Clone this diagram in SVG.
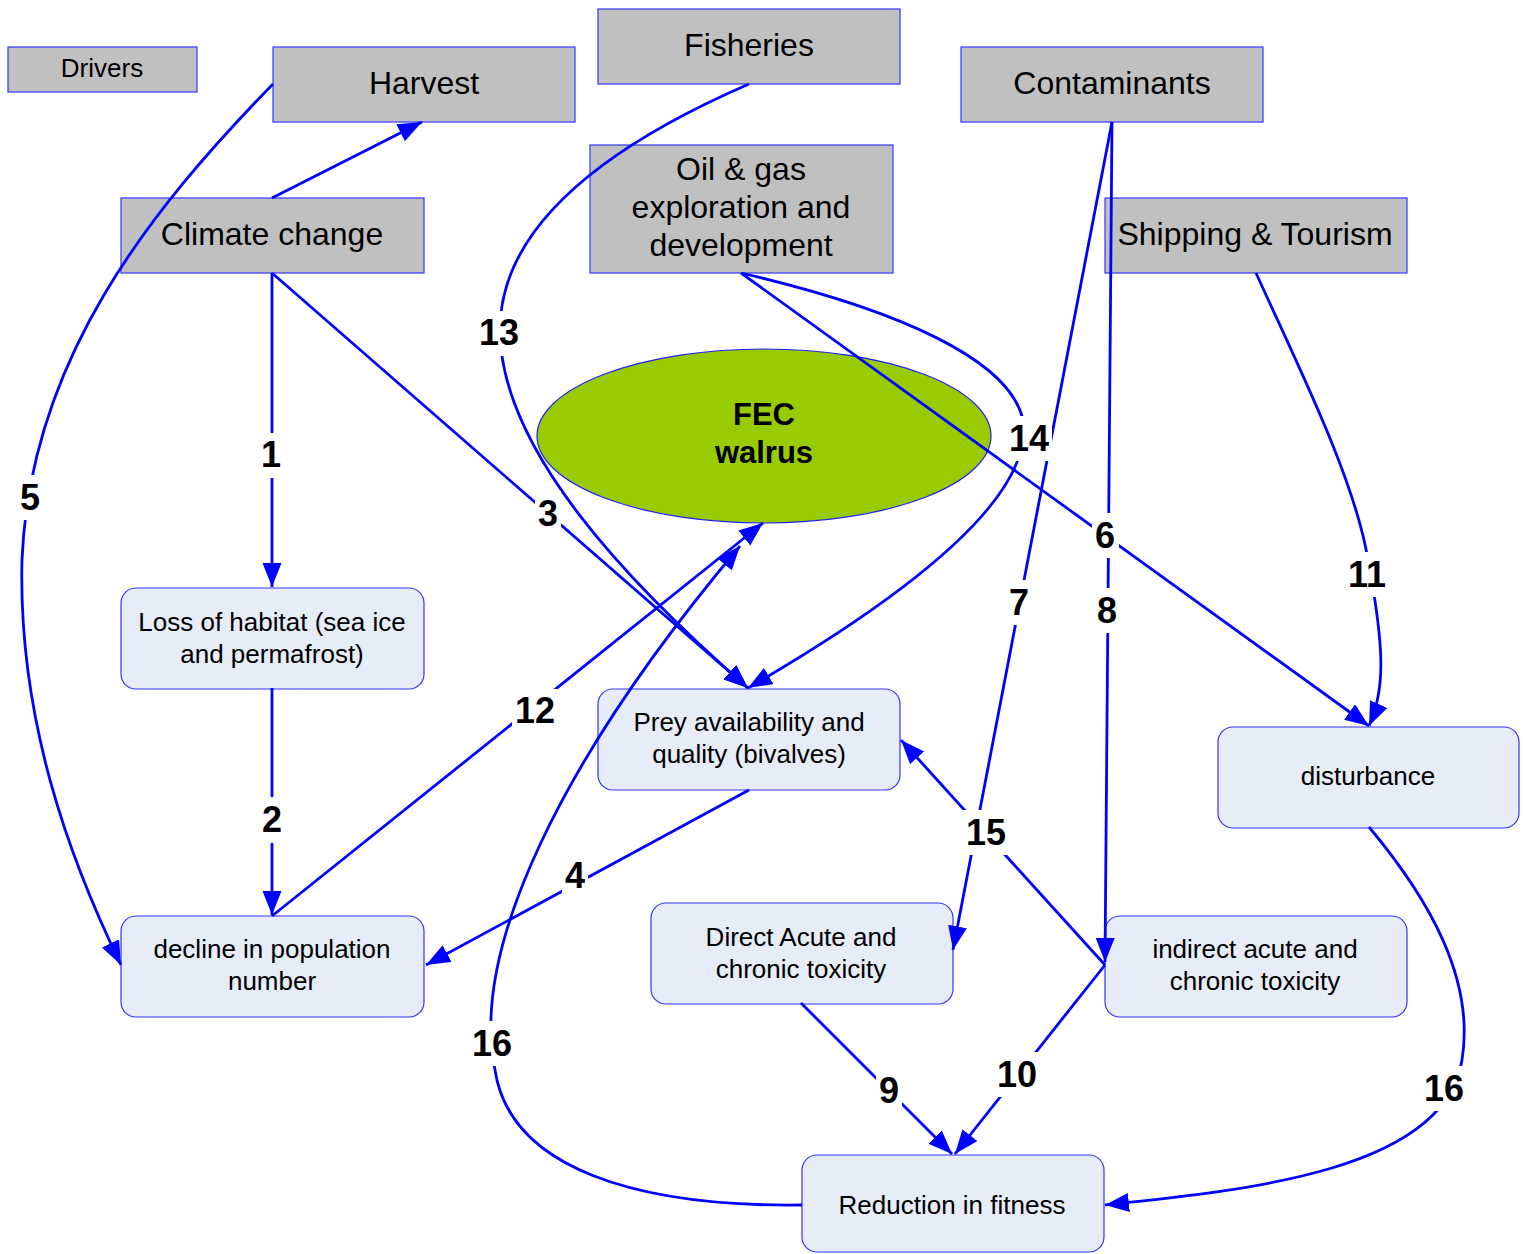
<svg xmlns="http://www.w3.org/2000/svg" width="1523" height="1254" viewBox="0 0 1523 1254">
  <style>
    .drv { fill: #C0C0C0; stroke: #3535FF; stroke-width: 1.2; }
    .eff { fill: #E6ECF8; stroke: #3535FF; stroke-width: 1.2; }
    .fec { fill: #99CC00; stroke: #2020FF; stroke-width: 1.2; }
    .txt { font-family: "Liberation Sans", Arial, sans-serif; fill: #000; text-anchor: middle; }
    .big { font-size: 32px; }
    .mid { font-size: 26px; }
    .bold { font-weight: bold; font-size: 31px; }
    .edge { fill: none; stroke: #0000FF; stroke-width: 2.8; }
    .arr { marker-end: url(#ah); }
    .lbg { fill: #FFFFFF; }
    .lbl { font-family: "Liberation Sans", Arial, sans-serif; font-weight: bold; font-size: 36px; fill: #000; text-anchor: middle; }
  </style>
  <defs>
    <marker id="ah" markerUnits="userSpaceOnUse" markerWidth="26" markerHeight="20" refX="24" refY="9.5" orient="auto">
      <path d="M0,0 L24,9.5 L0,19 z" fill="#0000FF"/>
    </marker>
  </defs>
  <rect width="1523" height="1254" fill="#FFFFFF"/>

  <!-- drivers -->
  <g id="drivers">
    <rect class="drv" x="8" y="47" width="189" height="45"/>
    <text class="txt" x="102" y="77" font-size="26">Drivers</text>
  </g>
  <g id="harvest">
    <rect class="drv" x="273" y="47" width="302" height="75"/>
    <text class="txt big" x="424" y="94">Harvest</text>
  </g>
  <g id="fisheries">
    <rect class="drv" x="598" y="9" width="302" height="75"/>
    <text class="txt big" x="749" y="56">Fisheries</text>
  </g>
  <g id="contaminants">
    <rect class="drv" x="961" y="47" width="302" height="75"/>
    <text class="txt big" x="1112" y="94">Contaminants</text>
  </g>
  <g id="climate">
    <rect class="drv" x="121" y="198" width="303" height="75"/>
    <text class="txt big" x="272" y="245">Climate change</text>
  </g>
  <g id="oilgas">
    <rect class="drv" x="590" y="145" width="303" height="128"/>
    <text class="txt big" x="741" y="180">Oil &amp; gas</text>
    <text class="txt big" x="741" y="218">exploration and</text>
    <text class="txt big" x="741" y="256">development</text>
  </g>
  <g id="shipping">
    <rect class="drv" x="1105" y="198" width="302" height="75"/>
    <text class="txt big" x="1255" y="245">Shipping &amp; Tourism</text>
  </g>

  <!-- ecosystem component -->
  <g id="fec-walrus">
    <ellipse class="fec" cx="764" cy="436" rx="227" ry="87"/>
    <text class="txt bold" x="764" y="425">FEC</text>
    <text class="txt bold" x="764" y="463">walrus</text>
  </g>

  <!-- pressures and effects -->
  <g id="loss-habitat">
    <rect class="eff" x="121" y="588" width="303" height="101" rx="15"/>
    <text class="txt mid" x="272" y="631">Loss of habitat (sea ice</text>
    <text class="txt mid" x="272" y="663">and permafrost)</text>
  </g>
  <g id="decline">
    <rect class="eff" x="121" y="916" width="303" height="101" rx="15"/>
    <text class="txt mid" x="272" y="958">decline in population</text>
    <text class="txt mid" x="272" y="990">number</text>
  </g>
  <g id="prey">
    <rect class="eff" x="598" y="689" width="302" height="101" rx="15"/>
    <text class="txt mid" x="749" y="731">Prey availability and</text>
    <text class="txt mid" x="749" y="763">quality (bivalves)</text>
  </g>
  <g id="disturbance">
    <rect class="eff" x="1218" y="727" width="301" height="101" rx="15"/>
    <text class="txt mid" x="1368" y="785">disturbance</text>
  </g>
  <g id="direct-toxicity">
    <rect class="eff" x="651" y="903" width="302" height="101" rx="15"/>
    <text class="txt mid" x="801" y="946">Direct Acute and</text>
    <text class="txt mid" x="801" y="978">chronic toxicity</text>
  </g>
  <g id="indirect-toxicity">
    <rect class="eff" x="1105" y="916" width="302" height="101" rx="15"/>
    <text class="txt mid" x="1255" y="958">indirect acute and</text>
    <text class="txt mid" x="1255" y="990">chronic toxicity</text>
  </g>
  <g id="reduction-fitness">
    <rect class="eff" x="802" y="1155" width="302" height="97" rx="15"/>
    <text class="txt mid" x="952" y="1214">Reduction in fitness</text>
  </g>

  <!-- connectors -->
  <g id="connectors">
    <path class="edge arr" d="M272,198 L422,122"/>
    <path class="edge arr" d="M272,273 L272,587"/>
    <path class="edge arr" d="M272,688 L272,915"/>
    <path class="edge arr" d="M272,273 L748,688"/>
    <path class="edge arr" d="M749,790 L426,965"/>
    <path class="edge arr" d="M273,84 C150,210 30,360 22,560 C18,720 70,860 121,965"/>
    <path class="edge arr" d="M741,273 L1369,726"/>
    <path class="edge arr" d="M1112,122 L953,950"/>
    <path class="edge arr" d="M1112,122 L1105,962"/>
    <path class="edge arr" d="M801,1003 L952,1154"/>
    <path class="edge arr" d="M1105,965 L955,1154"/>
    <path class="edge arr" d="M1256,273 C1300,370 1355,480 1368,560 C1385,650 1385,690 1369,726"/>
    <path class="edge arr" d="M272,916 L763,523"/>
    <path class="edge arr" d="M749,84 C620,140 500,220 500,330 C500,450 630,585 748,688"/>
    <path class="edge arr" d="M741,273 C900,310 1010,360 1023,420 C1035,500 900,600 748,688"/>
    <path class="edge arr" d="M1105,965 L901,740"/>
    <path class="edge arr" d="M1369,827 C1430,900 1475,980 1462,1060 C1445,1170 1250,1190 1105,1205"/>
    <path class="edge arr" d="M802,1205 C640,1207 510,1170 495,1070 C470,950 560,760 740,546"/>

    <!-- edge numbers -->
    <g id="edge-labels">
      <rect class="lbg" x="258" y="433" width="26" height="45"/>
      <text class="lbl" x="271" y="467">1</text>
      <rect class="lbg" x="259" y="797" width="26" height="46"/>
      <text class="lbl" x="272" y="832">2</text>
      <rect class="lbg" x="535" y="491" width="26" height="45"/>
      <text class="lbl" x="548" y="526">3</text>
      <rect class="lbg" x="562" y="853" width="26" height="45"/>
      <text class="lbl" x="575" y="888">4</text>
      <rect class="lbg" x="17" y="475" width="26" height="45"/>
      <text class="lbl" x="30" y="510">5</text>
      <rect class="lbg" x="1092" y="513" width="27" height="45"/>
      <text class="lbl" x="1105" y="548">6</text>
      <rect class="lbg" x="1006" y="580" width="27" height="45"/>
      <text class="lbl" x="1019" y="615">7</text>
      <rect class="lbg" x="1094" y="588" width="27" height="45"/>
      <text class="lbl" x="1107" y="623">8</text>
      <rect class="lbg" x="876" y="1068" width="26" height="45"/>
      <text class="lbl" x="889" y="1103">9</text>
      <rect class="lbg" x="994" y="1052" width="46" height="45"/>
      <text class="lbl" x="1017" y="1087">10</text>
      <rect class="lbg" x="1344" y="552" width="46" height="45"/>
      <text class="lbl" x="1367" y="587">11</text>
      <rect class="lbg" x="512" y="689" width="46" height="45"/>
      <text class="lbl" x="535" y="723">12</text>
      <rect class="lbg" x="476" y="311" width="46" height="45"/>
      <text class="lbl" x="499" y="345">13</text>
      <rect class="lbg" x="1006" y="416" width="46" height="45"/>
      <text class="lbl" x="1029" y="451">14</text>
      <rect class="lbg" x="963" y="810" width="46" height="45"/>
      <text class="lbl" x="986" y="845">15</text>
      <rect class="lbg" x="1421" y="1066" width="46" height="45"/>
      <text class="lbl" x="1444" y="1101">16</text>
      <rect class="lbg" x="469" y="1021" width="46" height="45"/>
      <text class="lbl" x="492" y="1056">16</text>
    </g>
  </g>
</svg>
